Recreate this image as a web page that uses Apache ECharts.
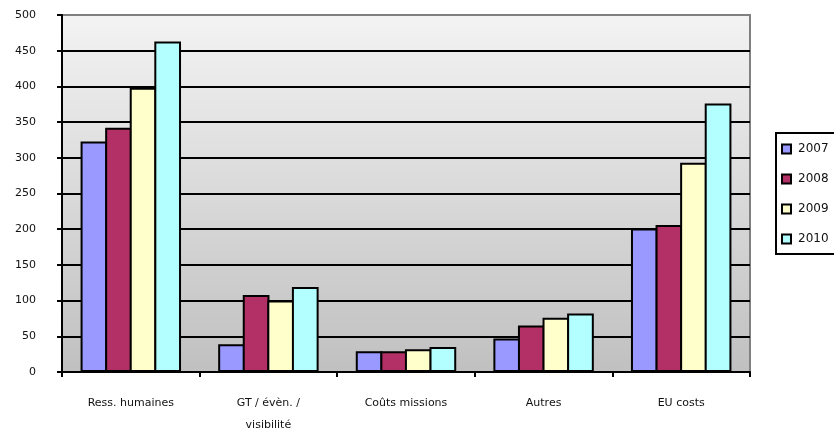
<!DOCTYPE html>
<html>
<head>
<meta charset="utf-8">
<script src="https://cdn.jsdelivr.net/npm/echarts@6/dist/echarts.min.js"></script>
<style>
  html, body { margin: 0; padding: 0; background: #fff; }
  #chart { width: 834px; height: 436px; }
</style>
</head>
<body>
<div id="chart"></div>
<script>
// categories and yearly values
const categories = ['Ress. humaines', 'GT / évèn. /\nvisibilité', 'Coûts missions', 'Autres', 'EU costs']
const years = ['2007', '2008', '2009', '2010']
const values2007 = [323, 39, 29, 47, 201]
const values2008 = [342, 108, 29, 65, 206]
const values2009 = [398, 100, 32, 76, 293]
const values2010 = [463, 119, 35, 82, 376]
const yTicks = [0, 50, 100, 150, 200, 250, 300, 350, 400, 450, 500]

const colors = ['#9999FF', '#B23065', '#FFFFCC', '#B3FFFF']
const seriesValues = [values2007, values2008, values2009, values2010]

const chart = echarts.init(document.getElementById('chart'))

const fontFamily = 'DejaVu Sans'

// black gridlines, except the top one which is the grey plot border
const splitColors = yTicks.map((t, i) => (i === yTicks.length - 1 ? '#808080' : '#000'))

const option = {
  animation: false,
  grid: {
    left: 62,
    right: 84,
    top: 15,
    bottom: 60,
    show: true,
    borderColor: '#808080',
    borderWidth: 2,
    backgroundColor: {
      type: 'linear',
      x: 0, y: 0, x2: 0, y2: 1,
      colorStops: [
        { offset: 0, color: '#F3F3F3' },
        { offset: 1, color: '#C0C0C0' },
      ],
    },
  },
  legend: {
    orient: 'vertical',
    left: 776,
    top: 133,
    padding: [10, 20, 9, 5],
    itemWidth: 9,
    itemHeight: 9,
    itemGap: 18,
    borderColor: '#000',
    borderWidth: 2,
    backgroundColor: '#fff',
    icon: 'rect',
    itemStyle: { borderColor: '#000', borderWidth: 2 },
    textStyle: { fontFamily, fontSize: 12, color: '#111', padding: [0, 0, 0, 2] },
    data: years,
  },
  xAxis: {
    type: 'category',
    data: categories,
    axisLine: { lineStyle: { color: '#000', width: 2 } },
    axisTick: { show: true, length: 5, lineStyle: { color: '#000', width: 2 } },
    axisLabel: {
      fontFamily,
      fontSize: 11,
      color: '#111',
      margin: 20,
      lineHeight: 22,
      interval: 0,
    },
  },
  yAxis: {
    type: 'value',
    min: yTicks[0],
    max: yTicks[yTicks.length - 1],
    interval: 50,
    axisLine: { show: true, lineStyle: { color: '#000', width: 2 } },
    axisTick: { show: true, length: 5, lineStyle: { color: '#000', width: 2 } },
    splitLine: { lineStyle: { color: splitColors, width: 2 } },
    axisLabel: {
      fontFamily,
      fontSize: 11,
      color: '#111',
      margin: 26,
    },
  },
  series: years.map((year, i) => ({
    name: year,
    type: 'bar',
    data: seriesValues[i],
    barGap: '-8%',
    barCategoryGap: '27%',
    itemStyle: {
      color: colors[i],
      borderColor: '#000',
      borderWidth: 2,
    },
  })),
}

chart.setOption(option)
</script>
</body>
</html>
